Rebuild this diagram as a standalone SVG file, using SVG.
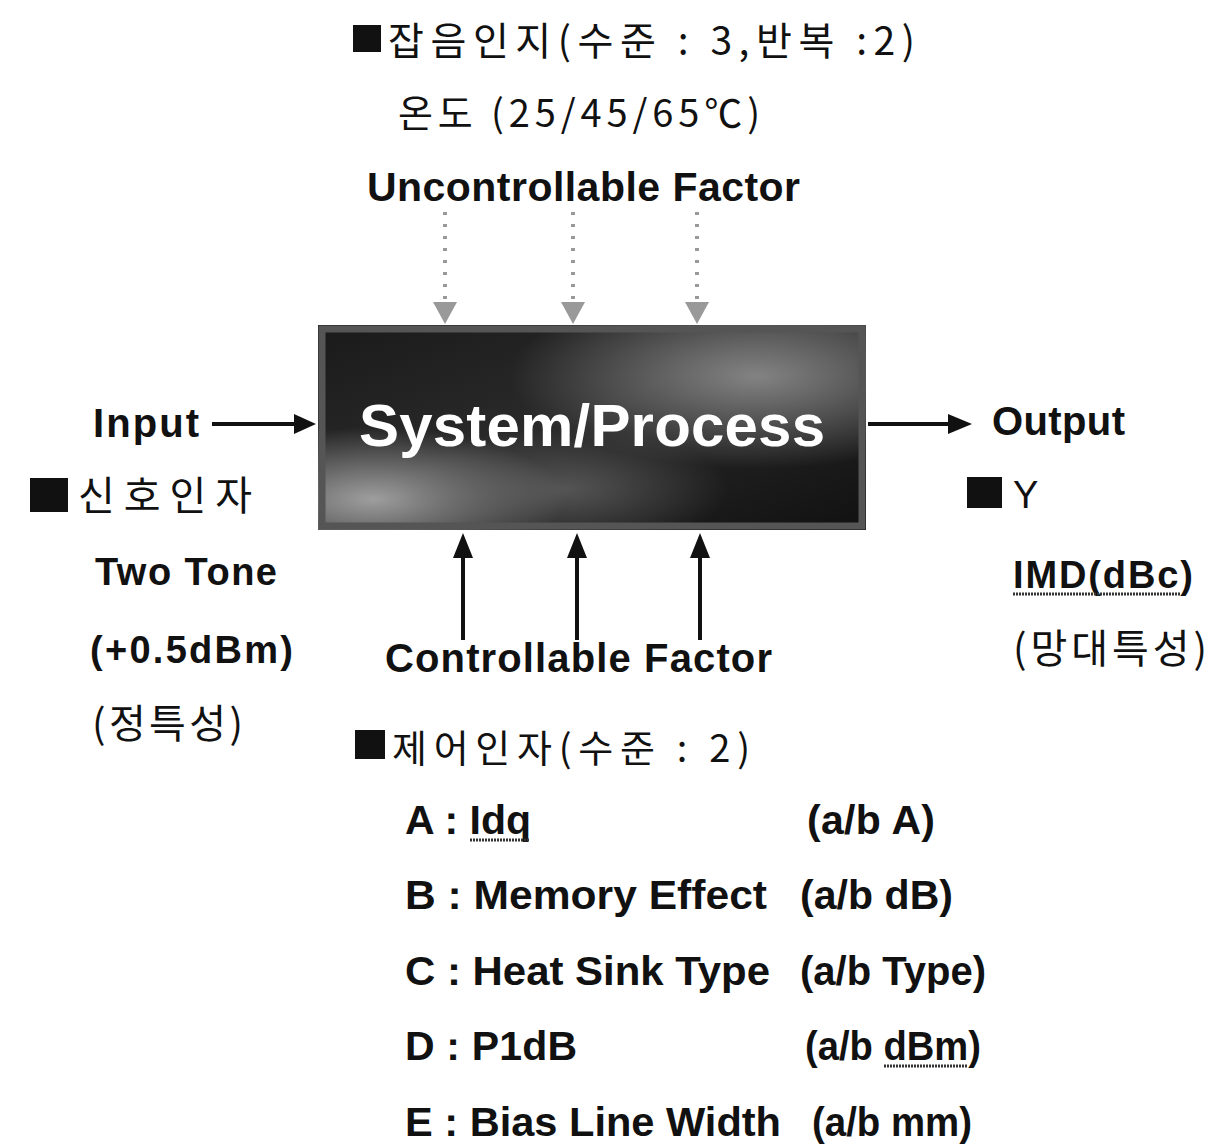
<svg xmlns="http://www.w3.org/2000/svg" width="1229" height="1146" viewBox="0 0 1229 1146">
<defs>
<style>
.en{font-family:"Liberation Sans",Arial,sans-serif;font-weight:bold;fill:#111}
.ko{font-family:"Noto Sans CJK KR","Liberation Sans",sans-serif;fill:#111}
.rg{font-family:"Liberation Sans",Arial,sans-serif;fill:#111}
.sq{fill:#111}
.ul{stroke:#333;stroke-width:3;stroke-dasharray:2 1}
.solid{stroke:#111;stroke-width:4;fill:none}
.dot{stroke:#999;stroke-width:4;stroke-dasharray:3 9;fill:none}
</style>
<linearGradient id="bg" x1="0" y1="0" x2="1" y2="1">
<stop offset="0" stop-color="#1a1a1a"/>
<stop offset="0.45" stop-color="#2a2a2a"/>
<stop offset="1" stop-color="#111"/>
</linearGradient>
<radialGradient id="hl1" cx="0.8" cy="0.25" r="0.45">
<stop offset="0" stop-color="#9a9a9a" stop-opacity="0.8"/>
<stop offset="1" stop-color="#9a9a9a" stop-opacity="0"/>
</radialGradient>
<radialGradient id="hl2" cx="0.1" cy="0.85" r="0.35">
<stop offset="0" stop-color="#bbbbbb" stop-opacity="0.8"/>
<stop offset="1" stop-color="#bbbbbb" stop-opacity="0"/>
</radialGradient>
<radialGradient id="hl3" cx="0.45" cy="0.8" r="0.3">
<stop offset="0" stop-color="#777" stop-opacity="0.6"/>
<stop offset="1" stop-color="#777" stop-opacity="0"/>
</radialGradient>
</defs>
<rect width="1229" height="1146" fill="#fff"/>

<g id="connectors">
<line class="dot" x1="445" y1="212" x2="445" y2="300"/>
<line class="dot" x1="573" y1="212" x2="573" y2="300"/>
<line class="dot" x1="697" y1="212" x2="697" y2="300"/>
<path d="M433,302 L457,302 L445,324 z" fill="#999"/>
<path d="M561,302 L585,302 L573,324 z" fill="#999"/>
<path d="M685,302 L709,302 L697,324 z" fill="#999"/>
<line class="solid" x1="463" y1="640" x2="463" y2="555"/>
<line class="solid" x1="577" y1="640" x2="577" y2="555"/>
<line class="solid" x1="700" y1="640" x2="700" y2="555"/>
<path d="M453,558 L463,533 L473,558 z" fill="#111"/>
<path d="M567,558 L577,533 L587,558 z" fill="#111"/>
<path d="M690,558 L700,533 L710,558 z" fill="#111"/>
<line class="solid" x1="212" y1="424" x2="296" y2="424"/>
<path d="M294,414 L316,424 L294,434 z" fill="#111"/>
<line class="solid" x1="868" y1="424" x2="950" y2="424"/>
<path d="M948,414 L972,424 L948,434 z" fill="#111"/>
</g>

<g id="system">
<rect x="318" y="325" width="548" height="205" fill="url(#bg)"/>
<rect x="318" y="325" width="548" height="205" fill="url(#hl1)"/>
<rect x="318" y="325" width="548" height="205" fill="url(#hl2)"/>
<rect x="318" y="325" width="548" height="205" fill="url(#hl3)"/>
<rect x="322" y="329" width="540" height="197" fill="none" stroke="#555" stroke-width="7"/>
<text x="592" y="446" text-anchor="middle" class="en" style="fill:#fff" font-size="60" textLength="466">System/Process</text>
</g>

<g id="noise">
<rect class="sq" x="353" y="25" width="28" height="27"/>
<text class="ko" x="388" y="55" font-size="39" textLength="527">잡음인지(수준 : 3,반복 :2)</text>
<text class="ko" x="398" y="127" font-size="38" textLength="362">온도 (25/45/65℃)</text>
<text class="en" x="367" y="201" font-size="41" textLength="433">Uncontrollable Factor</text>
</g>

<g id="input">
<text class="en" x="93" y="437" font-size="40" textLength="106">Input</text>
<rect class="sq" x="30" y="478" width="38" height="34"/>
<text class="ko" x="78" y="510" font-size="40" textLength="174">신호인자</text>
<text class="en" x="95" y="585" font-size="38" textLength="182">Two Tone</text>
<text class="en" x="90" y="663" font-size="38" textLength="203">(+0.5dBm)</text>
<text class="ko" x="92" y="738" font-size="40" textLength="151">(정특성)</text>
</g>

<g id="output">
<text class="en" x="992" y="435" font-size="40" textLength="133">Output</text>
<rect class="sq" x="967" y="477" width="35" height="31"/>
<text class="rg" x="1013" y="508" font-size="38">Y</text>
<text class="en" x="1013" y="588" font-size="38" textLength="180">IMD(dBc)</text>
<line class="ul" x1="1013" y1="594" x2="1180" y2="594"/>
<text class="ko" x="1013" y="663" font-size="40" textLength="194">(망대특성)</text>
</g>

<g id="control">
<text class="en" x="385" y="672" font-size="40" textLength="387">Controllable Factor</text>
<rect class="sq" x="355" y="730" width="30" height="29"/>
<text class="ko" x="392" y="762" font-size="38" textLength="358">제어인자(수준 : 2)</text>
<text class="en" x="405" y="834" font-size="41">A : Idq</text>
<line class="ul" x1="470" y1="840" x2="530" y2="840"/>
<text class="en" x="807" y="834" font-size="41" textLength="128">(a/b A)</text>
<text class="en" x="405" y="909" font-size="41" textLength="362" lengthAdjust="spacingAndGlyphs">B : Memory Effect</text>
<text class="en" x="800" y="909" font-size="41" textLength="153">(a/b dB)</text>
<text class="en" x="405" y="985" font-size="41" textLength="365" lengthAdjust="spacingAndGlyphs">C : Heat Sink Type</text>
<text class="en" x="800" y="985" font-size="41" textLength="186" lengthAdjust="spacingAndGlyphs">(a/b Type)</text>
<text class="en" x="405" y="1060" font-size="41" textLength="172">D : P1dB</text>
<text class="en" x="805" y="1060" font-size="41" textLength="176" lengthAdjust="spacingAndGlyphs">(a/b dBm)</text>
<line class="ul" x1="884" y1="1066" x2="968" y2="1066"/>
<text class="en" x="405" y="1136" font-size="41" textLength="376" lengthAdjust="spacingAndGlyphs">E : Bias Line Width</text>
<text class="en" x="812" y="1136" font-size="41" textLength="160" lengthAdjust="spacingAndGlyphs">(a/b mm)</text>
</g>
</svg>
